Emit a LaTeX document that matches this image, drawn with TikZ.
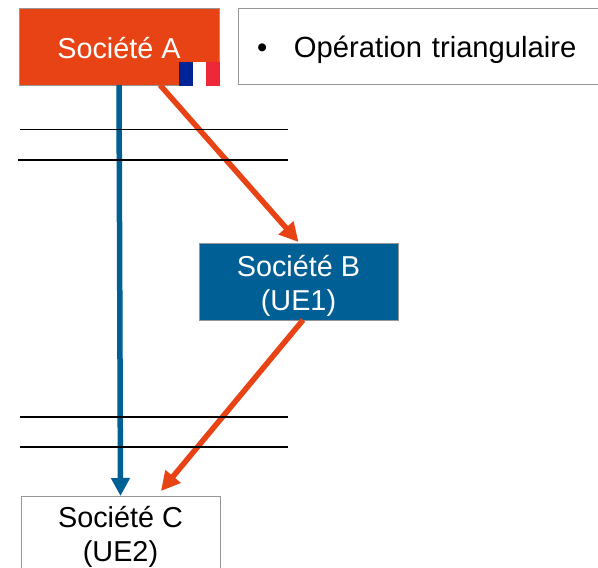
\documentclass[tikz,border=0pt]{standalone}
\usepackage{fontspec}
\setmainfont{Liberation Sans}
\usetikzlibrary{arrows.meta}
\definecolor{orangeA}{HTML}{E84315}
\definecolor{blueB}{HTML}{005F95}
\definecolor{frblue}{HTML}{002395}
\definecolor{frred}{HTML}{ED2939}
\definecolor{edge}{HTML}{969696}
\newcommand{\twolines}[3]{\raisebox{#1}[0pt][0pt]{\begin{tabular}{@{}c@{}}#2\\#3\end{tabular}}}
\newcommand{\oneline}[2]{\raisebox{#1}[0pt][0pt]{#2}}
\tikzset{
 x=1pt,y=-1pt,
 box/.style={draw=edge,line width=0.8pt,minimum width=199pt,minimum height=77pt,inner sep=0pt,outer sep=0pt,align=center,font=\fontsize{28.8}{34}\selectfont},
 rule/.style={draw=black,line width=1.7pt},
 bluearrow/.style={draw=blueB,line width=5.5pt,-{Triangle[length=18pt,width=18pt]}},
 orangearrow/.style={draw=orangeA,line width=5.5pt,-{Triangle[length=19pt,width=19pt]}},
}
\begin{document}
\begin{tikzpicture}
\useasboundingbox (0,0) rectangle (598,568);
\clip (0,0) rectangle (598,568);
\node[box,fill=orangeA,text=white,anchor=north west,minimum width=200pt] (a) at (19,8) {\oneline{-11.5pt}{Société A}};
\node[box,anchor=north west,minimum width=362pt,minimum height=76pt,text=black,text width=344pt,align=left,font=\fontsize{29.2}{34}\selectfont] (op) at (238,8) {\oneline{-11.5pt}{\hspace*{10pt}\makebox[37pt][l]{•}Opération triangulaire}};
\node[box,fill=blueB,text=white,anchor=north west] (b) at (199,243) {\twolines{-11pt}{Société B}{(UE1)}};
\node[box,fill=white,anchor=north west,minimum height=88pt,text=black] (c) at (21,496) {\twolines{-4.4pt}{Société C}{(UE2)}};
\fill[frblue] (179,62) rectangle (192.7,86);
\fill[white] (192.7,62) rectangle (206.3,86);
\fill[frred] (206.3,62) rectangle (220,86);
\coordinate (a1) at (119,85);
\coordinate (c1) at (120.5,496);
\coordinate (a2) at (160,85);
\coordinate (b1) at (298.5,242);
\coordinate (b2) at (303,320);
\coordinate (c2) at (161,491);
\draw[bluearrow] (a1) -- (c1);
\draw[orangearrow] (a2) -- (b1);
\draw[orangearrow] (b2) -- (c2);
\coordinate (l1a) at (20,129.4); \coordinate (l1b) at (288,129.4);
\coordinate (l2a) at (18,159.7); \coordinate (l2b) at (288,159.7);
\coordinate (l3a) at (20,416.7); \coordinate (l3b) at (288,416.7);
\coordinate (l4a) at (20,447); \coordinate (l4b) at (288,447);
\draw[rule] (l1a) -- (l1b);
\draw[rule] (l2a) -- (l2b);
\draw[rule] (l3a) -- (l3b);
\draw[rule] (l4a) -- (l4b);
\end{tikzpicture}
\end{document}
